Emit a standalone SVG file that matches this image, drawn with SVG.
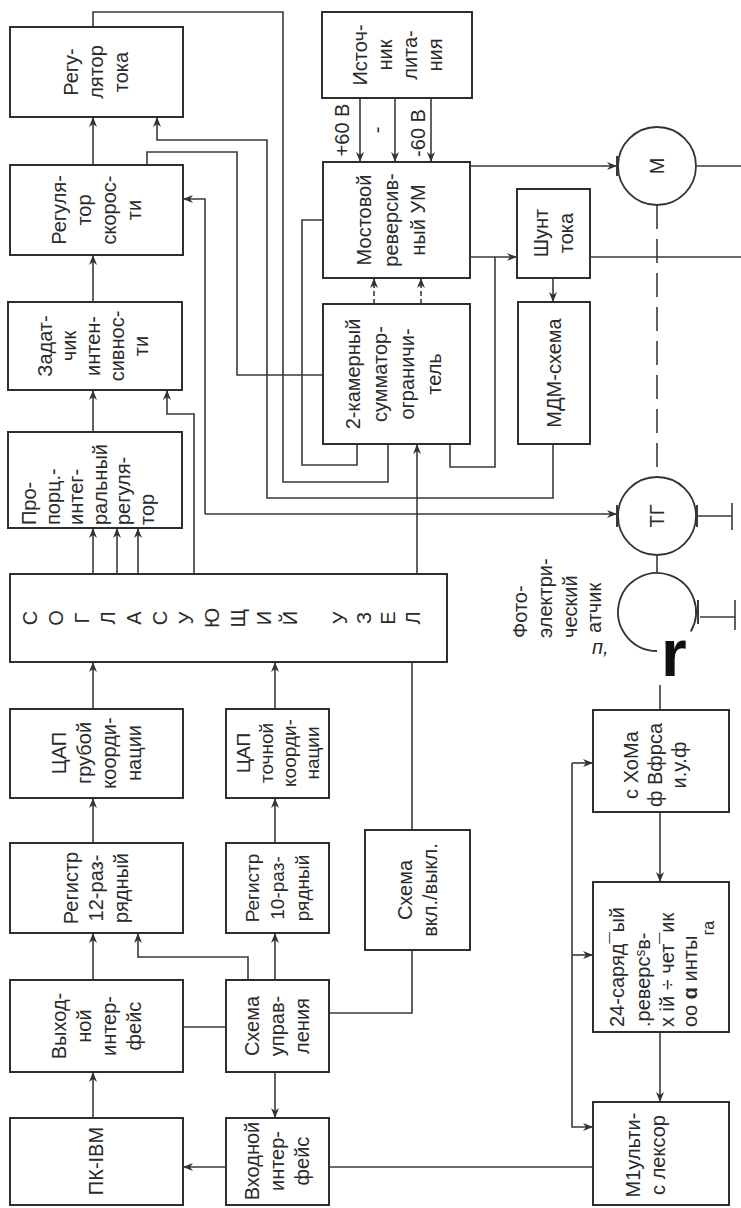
<svg xmlns="http://www.w3.org/2000/svg" width="741" height="1208" viewBox="0 0 741 1208">
<style>
.bx{fill:#fff;stroke:#2e2e2e;stroke-width:2}
.t{font-family:"Liberation Sans",Arial,sans-serif;font-size:20px;fill:#2a2a2a;text-anchor:middle}
.s{text-anchor:start}
.n19{font-size:19px}
.c{fill:none;stroke:#333;stroke-width:1.8}
</style>
<defs>
<marker id="ah" markerWidth="11" markerHeight="8" refX="10" refY="4" orient="auto" markerUnits="userSpaceOnUse"><path d="M0,0 L10,4 L0,8 L3,4 z" fill="#333"/></marker>
</defs>
<rect width="741" height="1208" fill="#fff"/>

<g id="connectors" fill="none" stroke="#3a3a3a" stroke-width="1.6">
<path d="M93 302V255" marker-end="url(#ah)"/>
<path d="M93 165V117" marker-end="url(#ah)"/>
<path d="M93 432V390" marker-end="url(#ah)"/>
<path d="M93 574V528" marker-end="url(#ah)"/>
<path d="M117 574V528" marker-end="url(#ah)"/>
<path d="M138 574V528" marker-end="url(#ah)"/>
<path d="M194 574V414H167V390" marker-end="url(#ah)"/>
<path d="M93 709V662" marker-end="url(#ah)"/>
<path d="M93 843V798" marker-end="url(#ah)"/>
<path d="M275 709V662" marker-end="url(#ah)"/>
<path d="M275 843V798" marker-end="url(#ah)"/>
<path d="M93 980V933" marker-end="url(#ah)"/>
<path d="M248 980V957H138V933" marker-end="url(#ah)"/>
<path d="M275 980V933" marker-end="url(#ah)"/>
<path d="M93 1118V1072" marker-end="url(#ah)"/>
<path d="M275 1072V1118" marker-end="url(#ah)"/>
<path d="M226 1167H183" marker-end="url(#ah)"/>
<path d="M329 1167H593"/>
<path d="M183 1027H226"/>
<path d="M329 1013H412V950"/>
<path d="M412 830V662"/>
<path d="M417 574V444" marker-end="url(#ah)"/>
<path d="M360 98V162" marker-end="url(#ah)"/>
<path d="M395 98V162" marker-end="url(#ah)"/>
<path d="M431 98V162" marker-end="url(#ah)"/>
<path d="M374 304V278" stroke-dasharray="5 3" marker-end="url(#ah)"/>
<path d="M421 304V278" stroke-dasharray="5 3" marker-end="url(#ah)"/>
<path d="M470 166H617" marker-end="url(#ah)"/>
<path d="M470 257H517" marker-end="url(#ah)"/>
<path d="M495 257V467H450V444"/>
<path d="M553 278V302" marker-end="url(#ah)"/>
<path d="M553 444V498H267V140H157V117" marker-end="url(#ah)"/>
<path d="M93 27V12H283V482H388V444"/>
<path d="M147 165V152H237V375H323"/>
<path d="M323 220H302V465H357V444"/>
<path d="M205 514H617" marker-end="url(#ah)"/>
<path d="M205 514V199H183" marker-end="url(#ah)"/>
<path d="M660 685V710"/>
<path d="M660 812V882" marker-end="url(#ah)"/>
<path d="M660 1032V1102" marker-end="url(#ah)"/>
<path d="M572 763H593" marker-end="url(#ah)"/>
<path d="M572 955H593" marker-end="url(#ah)"/>
<path d="M572 763V1127H593" marker-end="url(#ah)"/>
<path d="M697 166H741"/>
<path d="M590 257H741"/>
<path d="M657 205V476M657 555V573" stroke-dasharray="24 10"/>
<path d="M697 516H732M732 503V530"/>
<path d="M700 617H735M735 600V630"/>
<path d="M617 156V176M617 505V527M697 505V527M698 600V624" stroke-width="2"/>
</g>

<g id="reg-toka"><rect class="bx" x="10" y="27" width="173" height="90"/>
<text class="t" transform="translate(96,72) rotate(-90)"><tspan x="0" y="-18">Регу-</tspan><tspan x="0" y="7">лятор</tspan><tspan x="0" y="32">тока</tspan></text></g>

<g id="reg-skorosti"><rect class="bx" x="10" y="165" width="173" height="90"/>
<text class="t" transform="translate(96,210) rotate(-90)"><tspan x="0" y="-30.5">Регуля-</tspan><tspan x="0" y="-5.5">тор</tspan><tspan x="0" y="19.5">скорос-</tspan><tspan x="0" y="44.5">ти</tspan></text></g>

<g id="zadatchik"><rect class="bx" x="8" y="302" width="174" height="88"/>
<text class="t" transform="translate(93,346) rotate(-90)"><tspan x="0" y="-41">Задат-</tspan><tspan x="0" y="-17">чик</tspan><tspan x="0" y="7">интен-</tspan><tspan x="0" y="31">сивнос-</tspan><tspan x="0" y="55">ти</tspan></text></g>

<g id="pi-reg"><rect class="bx" x="8" y="432" width="174" height="96"/>
<text class="t s" transform="translate(88,525) rotate(-90)"><tspan x="0" y="-52">Про-</tspan><tspan x="0" y="-28">порц.-</tspan><tspan x="0" y="-5">интег-</tspan><tspan x="0" y="19">ральный</tspan><tspan x="0" y="42">регуля-</tspan><tspan x="0" y="66">тор</tspan></text></g>

<g id="soglas"><rect class="bx" x="10" y="574" width="437" height="88" stroke-width="2.5"/>
<text class="t" transform="translate(0,618) rotate(-90)"><tspan x="0" y="37">С</tspan><tspan x="0" y="63">О</tspan><tspan x="0" y="89">Г</tspan><tspan x="0" y="115">Л</tspan><tspan x="0" y="141">А</tspan><tspan x="0" y="167">С</tspan><tspan x="0" y="193">У</tspan><tspan x="0" y="219">Ю</tspan><tspan x="0" y="245">Щ</tspan><tspan x="0" y="271">И</tspan><tspan x="0" y="297">Й</tspan><tspan x="0" y="347">У</tspan><tspan x="0" y="371">З</tspan><tspan x="0" y="395">Е</tspan><tspan x="0" y="420">Л</tspan></text></g>

<g id="cap-grub"><rect class="bx" x="10" y="709" width="173" height="89"/>
<text class="t" transform="translate(96,753) rotate(-90)"><tspan x="0" y="-30.5">ЦАП</tspan><tspan x="0" y="-5.5">грубой</tspan><tspan x="0" y="19.5">коорди-</tspan><tspan x="0" y="44.5">нации</tspan></text></g>

<g id="cap-toch"><rect class="bx" x="226" y="709" width="103" height="89"/>
<text class="t n19" transform="translate(277,753) rotate(-90)"><tspan x="0" y="-27.5">ЦАП</tspan><tspan x="0" y="-4.5">точной</tspan><tspan x="0" y="18.5">коорди-</tspan><tspan x="0" y="41.5">нации</tspan></text></g>

<g id="reg12"><rect class="bx" x="10" y="843" width="173" height="90"/>
<text class="t" transform="translate(96,888) rotate(-90)"><tspan x="0" y="-18">Регистр</tspan><tspan x="0" y="7">12-раз-</tspan><tspan x="0" y="32">рядный</tspan></text></g>

<g id="reg10"><rect class="bx" x="226" y="843" width="103" height="90"/>
<text class="t n19" transform="translate(277,888) rotate(-90)"><tspan x="0" y="-18">Регистр</tspan><tspan x="0" y="7">10-раз-</tspan><tspan x="0" y="32">рядный</tspan></text></g>

<g id="vkl"><rect class="bx" x="365" y="830" width="105" height="120"/>
<text class="t" transform="translate(417,890) rotate(-90)"><tspan x="0" y="-5.5">Схема</tspan><tspan x="0" y="19.5">вкл./выкл.</tspan></text></g>

<g id="vyh-if"><rect class="bx" x="10" y="980" width="173" height="92"/>
<text class="t" transform="translate(96,1026) rotate(-90)"><tspan x="0" y="-30.5">Выход-</tspan><tspan x="0" y="-5.5">ной</tspan><tspan x="0" y="19.5">интер-</tspan><tspan x="0" y="44.5">фейс</tspan></text></g>

<g id="upr"><rect class="bx" x="226" y="980" width="103" height="92"/>
<text class="t" transform="translate(277,1026) rotate(-90)"><tspan x="0" y="-18">Схема</tspan><tspan x="0" y="7">управ-</tspan><tspan x="0" y="32">ления</tspan></text></g>

<g id="pk"><rect class="bx" x="10" y="1118" width="173" height="87"/>
<text class="t" transform="translate(96,1161) rotate(-90)"><tspan x="0" y="7">ПК-IBM</tspan></text></g>

<g id="vh-if"><rect class="bx" x="226" y="1118" width="103" height="87"/>
<text class="t" transform="translate(277,1161) rotate(-90)"><tspan x="0" y="-18">Входной</tspan><tspan x="0" y="7">интер-</tspan><tspan x="0" y="32">фейс</tspan></text></g>

<g id="istochnik"><rect class="bx" x="322" y="12" width="150" height="86"/>
<text class="t" transform="translate(397,55) rotate(-90)"><tspan x="0" y="-30.5">Источ-</tspan><tspan x="0" y="-5.5">ник</tspan><tspan x="0" y="19.5">лита-</tspan><tspan x="0" y="44.5">ния</tspan></text></g>

<g id="labels-v">
<text class="t" transform="translate(342,130) rotate(-90)"><tspan x="0" y="7">+60 В</tspan></text>
<text class="t" transform="translate(377,130) rotate(-90)"><tspan x="0" y="7">-</tspan></text>
<text class="t" transform="translate(418,133) rotate(-90)"><tspan x="0" y="7">-60 В</tspan></text>
</g>

<g id="most"><rect class="bx" x="323" y="162" width="147" height="116"/>
<text class="t" transform="translate(391,220) rotate(-90)"><tspan x="0" y="-20">Мостовой</tspan><tspan x="0" y="7">реверсив-</tspan><tspan x="0" y="34">ный УМ</tspan></text></g>

<g id="summator"><rect class="bx" x="323" y="304" width="147" height="140"/>
<text class="t" transform="translate(393,374) rotate(-90)"><tspan x="0" y="-33.5">2-камерный</tspan><tspan x="0" y="-6.5">сумматор-</tspan><tspan x="0" y="20.5">ограничи-</tspan><tspan x="0" y="47.5">тель</tspan></text></g>

<g id="shunt"><rect class="bx" x="517" y="189" width="73" height="89"/>
<text class="t" transform="translate(553,233) rotate(-90)"><tspan x="0" y="-5.5">Шунт</tspan><tspan x="0" y="19.5">тока</tspan></text></g>

<g id="mdm"><rect class="bx" x="518" y="302" width="72" height="142"/>
<text class="t" transform="translate(554,373) rotate(-90)"><tspan x="0" y="7">МДМ-схема</tspan></text></g>

<g id="motor"><circle class="c" cx="657" cy="166" r="39"/>
<text class="t" transform="translate(657,166) rotate(-90)"><tspan x="0" y="7">М</tspan></text></g>

<g id="tg"><circle class="c" cx="657" cy="516" r="39"/>
<text class="t" transform="translate(657,516) rotate(-90)"><tspan x="0" y="7">ТГ</tspan></text></g>

<g id="foto"><path class="c" d="M690.8 631.5 A39 39 0 1 0 657 651"/>
<text class="t s" transform="translate(0,638) rotate(-90)"><tspan x="0" y="527">Фото-</tspan><tspan x="0" y="552">электри-</tspan><tspan x="0" y="577">ческий</tspan></text>
<text class="t s" transform="translate(0,633) rotate(-90)"><tspan x="0" y="601">атчик</tspan></text>
<text x="592" y="654" style="font-family:'Liberation Sans',Arial,sans-serif;font-style:italic;font-size:20px;fill:#2a2a2a">п,</text>
<text x="661" y="676" style="font-family:'Liberation Sans',Arial,sans-serif;font-weight:bold;font-size:66px;fill:#111">r</text></g>

<g id="formir"><rect class="bx" x="593" y="710" width="136" height="102"/>
<text class="t" transform="translate(655,765) rotate(-90)"><tspan x="0" y="-17">с ХоМа</tspan><tspan x="0" y="7">ф Вфрса</tspan><tspan x="0" y="31">и.у.ф</tspan></text></g>

<g id="schetchik"><rect class="bx" x="593" y="882" width="136" height="150"/>
<text class="t s" transform="translate(0,1027) rotate(-90)"><tspan x="0" y="624">24-саряд¯ый</tspan><tspan x="0" y="650">.реверсˢв-</tspan><tspan x="0" y="674">х ій ÷ чет¯ик</tspan><tspan x="0" y="697">оо <tspan font-weight="bold">ɑ</tspan> инты</tspan></text>
<text class="t" style="font-size:16px" transform="translate(708,928) rotate(-90)"><tspan x="0" y="6">га</tspan></text></g>

<g id="mux"><rect class="bx" x="593" y="1102" width="136" height="103"/>
<text class="t" transform="translate(645,1155) rotate(-90)"><tspan x="0" y="-5.5">М1ульти-</tspan><tspan x="0" y="19.5">с лексор</tspan></text></g>
</svg>
